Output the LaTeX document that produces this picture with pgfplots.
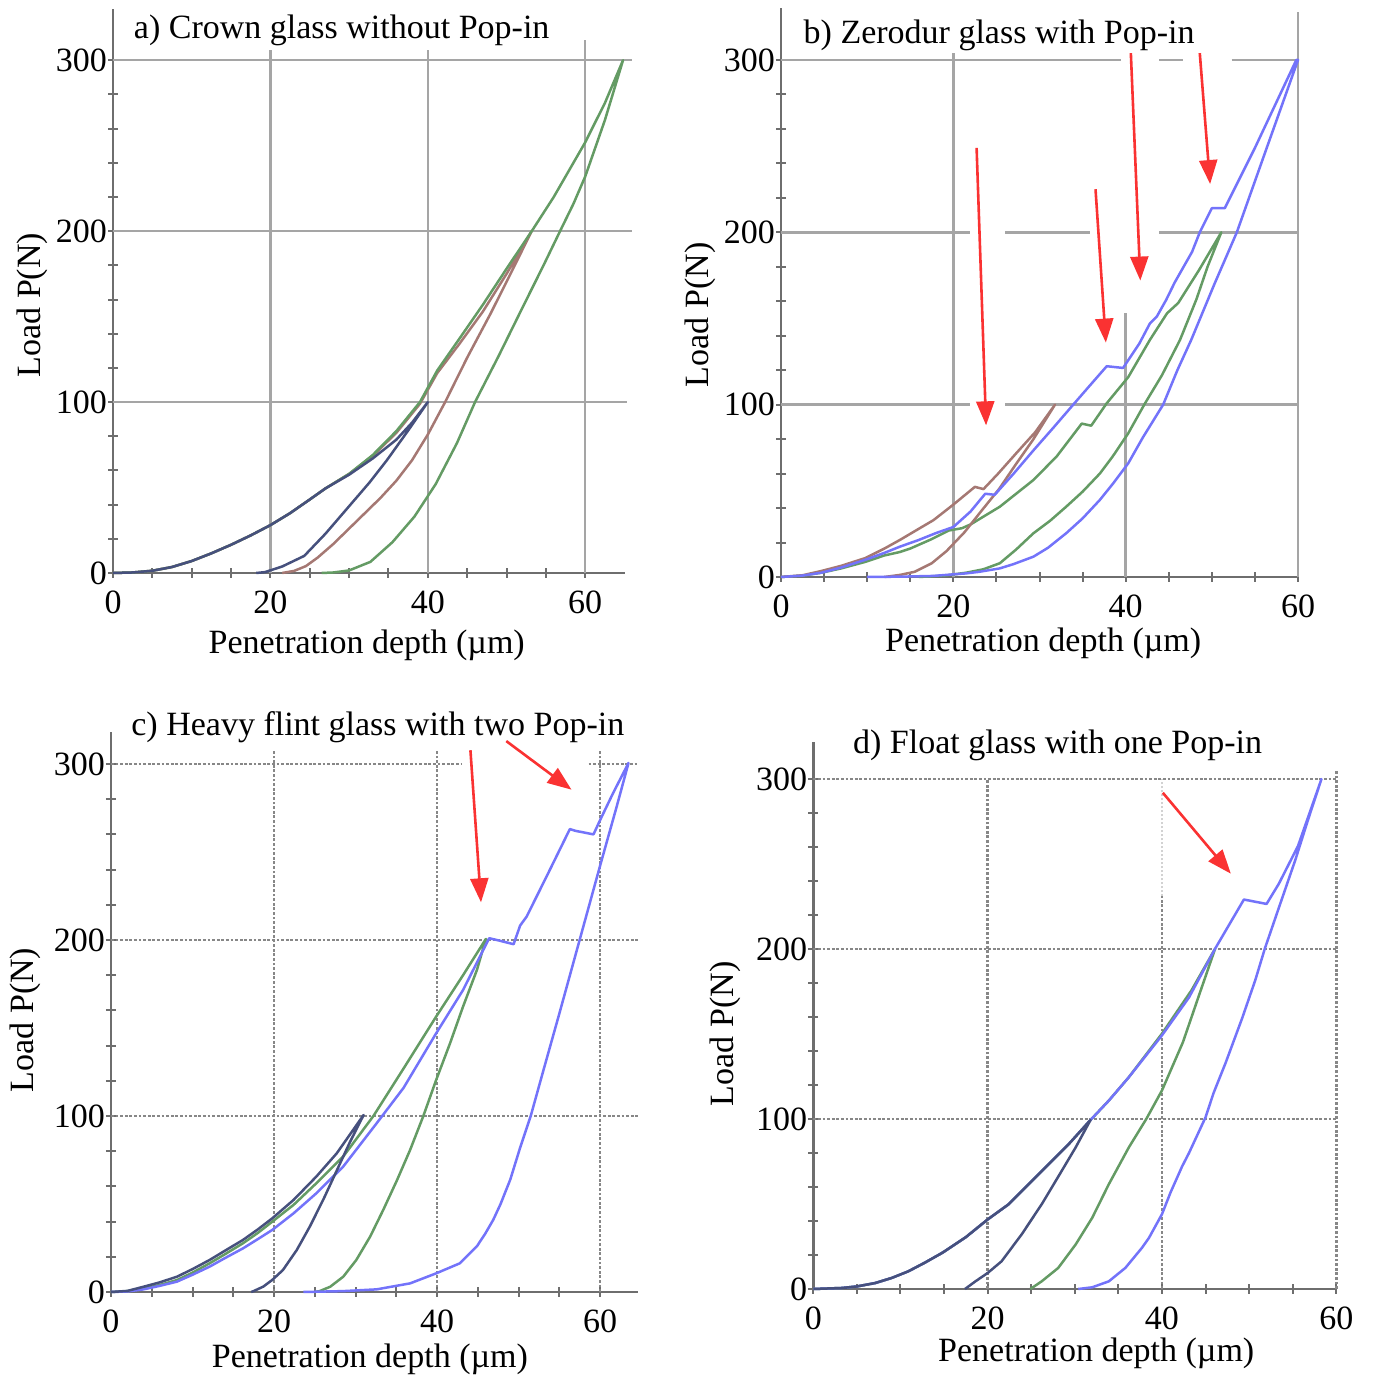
\documentclass[border=0pt]{standalone}
\usepackage{fontspec}
\setmainfont{Liberation Serif}
\usepackage{pgfplots}
\pgfplotsset{compat=1.18}
\usetikzlibrary{arrows.meta}

\definecolor{axgray}{RGB}{110,110,110}
\definecolor{grd}{RGB}{165,165,165}
\definecolor{dgrd}{RGB}{135,135,135}
\definecolor{cblue}{RGB}{115,115,250}
\definecolor{cgreen}{RGB}{100,155,100}
\definecolor{cbrown}{RGB}{165,120,115}
\definecolor{cdark}{RGB}{70,80,125}
\definecolor{cred}{RGB}{250,50,50}

\pgfplotsset{
  panel/.style={
    scale only axis, anchor=south west, clip=false,
    axis x line=bottom, axis y line=left,
    axis line style={-, draw=axgray, line width=1.3pt},
    xtick={0,20,40,60}, ytick={0,100,200,300},
    minor x tick num=3, minor y tick num=4,
    tick align=center, major tick length=5pt, minor tick length=5pt,
    every tick/.style={draw=axgray, line width=1pt},
    font=\fontsize{17}{20}\selectfont,
    /pgf/number format/assume math mode=true,
    xticklabel style={yshift=-3pt},
    yticklabel style={xshift=3pt},
    title style={anchor=center, yshift=-7.5pt},
    every axis plot/.append style={line width=1.25pt, line join=round},
  },
}
\tikzset{
  sgrid/.style={draw=grd, line width=1.2pt},
  dgrid/.style={draw=dgrd, line width=1.2pt, dash pattern=on 1.4pt off 0.9pt},
  fgrid/.style={draw=grd!50, line width=0.8pt, dash pattern=on 1pt off 1pt},
  arr/.style={draw=cred, line width=1.3pt, -{Triangle[width=9pt,length=12pt]}},
}

\begin{document}
\begin{tikzpicture}
\path[use as bounding box] (0,0) rectangle (686.5pt,687.5pt);

% a) Crown glass
\begin{axis}[panel,
  at={(56.5pt,401pt)}, width=255.8pt, height=282pt,
  xmin=0, xmax=65, ymin=0, ymax=330,
  title={a) Crown glass without Pop-in},
  title style={at={(axis description cs:0.447,0.968)}},
  xlabel={Penetration depth (µm)},
  xlabel style={at={(axis description cs:0.496,-0.128)}, anchor=center},
  ylabel={Load P(N)},
  ylabel style={at={(axis description cs:-0.158,0.475)}, anchor=center},
]
\draw[sgrid] (axis cs:0,100) -- (axis cs:65.3,100);
\draw[sgrid] (axis cs:0,200) -- (axis cs:66,200);
\draw[sgrid] (axis cs:0,300) -- (axis cs:66,300);
\draw[sgrid] (axis cs:20,0) -- (axis cs:20,306);
\draw[sgrid] (axis cs:40,0) -- (axis cs:40,306);
\draw[sgrid] (axis cs:60,0) -- (axis cs:60,312);

\addplot[cbrown] coordinates {
(0,0) (2.5,0.3) (5,1.3) (7.5,3.5) (10,7) (12.5,11.5) (15,16.5) (17.5,22)
(20,28) (22.5,35) (25,43) (27,49.5) (30,58) (33,68.5) (36,82) (39,99)
(41.2,117) (44,134) (47,153) (50,175) (53.2,200)
(50.5,175) (48,152) (45,126) (42.2,100) (40,81) (38,66) (36,54) (34,44)
(32,35) (30,26) (28,17) (26,9) (24.5,4) (23,1.2) (21.5,0)
};
\addplot[cgreen] coordinates {
(0,0) (2.5,0.3) (5,1.3) (7.5,3.5) (10,7) (12.5,11.5) (15,16.5) (17.5,22)
(20,28) (22.5,35) (25,43) (27,49.5) (30,58) (33,69) (36,83) (39,100)
(41.2,118.5) (44,137) (47,157) (50,178) (53.2,200) (56,220) (60,252)
(62.5,275) (64.8,300)
(62.5,265) (60,232) (58.5,216) (56.8,200) (54.7,180) (52,155) (49,127)
(46,100) (43.7,76) (41,52) (38.3,33) (35.5,18) (32.7,6.5) (30,1.5)
(28,0.3) (26.5,0)
};
\addplot[cdark] coordinates {
(0,0) (2.5,0.3) (5,1.3) (7.5,3.5) (10,7) (12.5,11.5) (15,16.5) (17.5,22)
(20,28) (22.5,35) (25,43) (27,49.5) (30,57.5) (33,67) (36,78) (38,88)
(40,100)
(37.6,84) (34.8,66) (32.6,53) (29.8,38) (27,23) (24.3,10) (21.5,3.8)
(19.3,0.5) (18.2,0)
};
\end{axis}

% b) Zerodur glass
\begin{axis}[panel,
  at={(390.5pt,399pt)}, width=258.5pt, height=284.35pt,
  xmin=0, xmax=60, ymin=0, ymax=330,
  title={b) Zerodur glass with Pop-in},
  title style={at={(axis description cs:0.422,0.958)}},
  xlabel={Penetration depth (µm)},
  xlabel style={at={(axis description cs:0.507,-0.116)}, anchor=center},
  ylabel={Load P(N)},
  ylabel style={at={(axis description cs:-0.157,0.461)}, anchor=center},
]
\draw[sgrid] (axis cs:0,100) -- (axis cs:21.9,100);
\draw[sgrid] (axis cs:26,100) -- (axis cs:60,100);
\draw[sgrid] (axis cs:0,200) -- (axis cs:21.9,200);
\draw[sgrid] (axis cs:26,200) -- (axis cs:35.9,200);
\draw[sgrid] (axis cs:43.9,200) -- (axis cs:60,200);
\draw[sgrid] (axis cs:0,300) -- (axis cs:39.5,300);
\draw[sgrid] (axis cs:43.9,300) -- (axis cs:46.7,300);
\draw[sgrid] (axis cs:52.3,300) -- (axis cs:60,300);
\draw[sgrid] (axis cs:20,0) -- (axis cs:20,304);
\draw[sgrid] (axis cs:40,0) -- (axis cs:40,153);
\draw[sgrid] (axis cs:60,0) -- (axis cs:60,328);

\addplot[cgreen] coordinates {
(0,0) (2.5,0.8) (4.7,2.5) (7,5) (9.8,8.8) (12,12.5) (13.8,14.5) (15,16.5)
(17.5,22) (19.5,27) (21,28.3) (22,30.5) (25.4,40.8) (29.3,56.3) (32,70)
(34.9,89) (36,87.8) (37.8,100.8) (40.3,116) (42.8,137.5) (44.8,153)
(46.1,159) (48.5,178) (51.1,200)
(49.5,180) (48.2,161) (46.3,137.5) (44.2,117) (42.2,100.4) (40.3,83.4)
(38.5,70) (37,60) (35,49.5) (33.1,40.8) (31.2,32.5) (29.3,25.4) (27.3,16)
(25.4,8) (23.5,4.5) (21.5,2.5) (19,0.8) (16,0)
};
\addplot[cbrown] coordinates {
(0,0) (2.5,1) (4.7,3.5) (7,6.5) (9.8,11) (12,16.5) (13.8,21.5) (16,28)
(17.7,33) (20,42) (22.5,52.3) (23.5,51) (25.2,60) (27.3,71.8) (29.5,84)
(31.8,100)
(29.3,80) (27.2,65) (25.3,51) (23.2,38) (21.3,26) (19.2,15) (17.5,8)
(15.5,3) (13.8,1.2) (12,0)
};
\addplot[cblue] coordinates {
(0,0) (2.5,0.8) (4.7,2.5) (7,5.5) (9.8,10) (12,14) (13.8,17.6) (16,21.5)
(18,25.5) (20,29) (22,38) (23.7,48.3) (24.8,47.7) (27,60) (29.3,73.5)
(31.5,86) (34,100.5) (36,112) (37.8,122.3) (39.7,121.3) (41.6,135.6)
(42.8,147) (43.6,151) (44.7,160.8) (45.7,171) (47.7,188.6) (48.6,200)
(50,214) (51.5,214) (55,249) (59.8,300) (60,300)
(56.3,248) (52.9,200) (50.3,170) (47.6,137.5) (46,120)
(44.35,100) (42,81) (40.3,66) (38.5,54) (37,44.7) (35,34) (33.1,25.4)
(31,17) (29.3,11.8) (27,7.5) (25.4,5) (23,3) (21.5,2.1) (17.6,0.6)
(14,0.2) (10,0)
};
\draw[arr] (axis cs:22.7,249) -- (axis cs:23.8,88);
\draw[arr] (axis cs:36.5,225) -- (axis cs:37.7,136);
\draw[arr] (axis cs:40.6,304) -- (axis cs:41.7,172);
\draw[arr] (axis cs:48.6,304) -- (axis cs:49.8,228);
\end{axis}

% c) Heavy flint glass
\begin{axis}[panel,
  at={(55.5pt,41.5pt)}, width=263.65pt, height=279.85pt,
  xmin=0, xmax=64.7, ymin=0, ymax=318,
  title={c) Heavy flint glass with two Pop-in},
  title style={at={(axis description cs:0.506,1.015)}},
  xlabel={Penetration depth (µm)},
  xlabel style={at={(axis description cs:0.491,-0.12)}, anchor=center},
  ylabel={Load P(N)},
  ylabel style={at={(axis description cs:-0.163,0.486)}, anchor=center},
]
\draw[dgrid] (axis cs:0,100) -- (axis cs:64.7,100);
\draw[dgrid] (axis cs:0,200) -- (axis cs:64.7,200);
\draw[dgrid] (axis cs:0,300) -- (axis cs:42.9,300);
\draw[dgrid] (axis cs:58.6,300) -- (axis cs:64.7,300);
\draw[dgrid] (axis cs:20,0) -- (axis cs:20,308);
\draw[dgrid] (axis cs:40,0) -- (axis cs:40,308);
\draw[dgrid] (axis cs:60,0) -- (axis cs:60,308);

\addplot[cgreen] coordinates {
(0,0) (2,0.5) (4,2) (6,4) (8.1,6.8) (10,11) (12.1,16.3) (14,21.5)
(16.2,27.7) (18,33.5) (19.8,40) (22.4,49.5) (25.2,61.8) (28.5,77)
(32.2,100) (35.9,127) (39.9,156.5) (43.2,180) (46,200.6)
(44.9,183) (43.2,162.2) (41.6,141.3) (39.9,120.5) (38.3,99.7) (36.7,80.7)
(35.1,63.6) (33.4,46.6) (31.8,31.5) (30.1,18.2) (28.5,8.7) (26.9,3)
(25.6,0.5) (25,0)
};
\addplot[cblue] coordinates {
(0,0) (2,0.3) (4,1.5) (6,3.5) (8.1,5.9) (10,9.8) (12.1,14.4) (14,19.3)
(16.2,24.8) (18,30) (19.8,35.3) (22.4,44.7) (25.2,56.1) (28.5,71.3)
(32.6,95.9) (35.9,116) (39.9,147) (43.2,171.6) (46.4,201) (47.6,199.7)
(49.4,197.6) (50.2,208.2) (51,213.3) (53.5,236.6) (56.3,263) (57,262)
(59.2,260) (60,268) (61.6,283.4) (63.5,300.6)
(62,275) (60,242) (57.5,200) (55,158) (53,125) (51.5,100) (50.2,82)
(49,64) (47.8,50) (46.9,41) (45.9,33) (44.9,26) (42.8,16.3) (39.9,10.6)
(36.7,4.9) (32.6,1.5) (28.5,0.5) (23.6,0)
};
\addplot[cdark] coordinates {
(0,0) (2,0.6) (4,3) (6,5.5) (8.1,8.7) (10,13) (12.1,18.2) (14,23.5)
(16.2,29.6) (18,35.5) (19.8,41.9) (22.4,52.3) (25.2,65.6) (27.7,78.8)
(31,100.6)
(29.3,85) (27.7,69) (26.1,53) (24.4,37.2) (22.8,23.9) (21.1,12.5)
(19.8,6.9) (18.7,3.1) (17.5,0.5) (17.2,0)
};
\draw[arr] (axis cs:44.1,307.8) -- (axis cs:45.4,221.4);
\draw[arr] (axis cs:48.5,313) -- (axis cs:56.5,285.4);
\end{axis}

% d) Float glass
\begin{axis}[panel,
  at={(406.65pt,43pt)}, width=261.5pt, height=273.7pt,
  xmin=0, xmax=60, ymin=0, ymax=322,
  title={d) Float glass with one Pop-in},
  title style={at={(axis description cs:0.467,0.999)}},
  xlabel={Penetration depth (µm)},
  xlabel style={at={(axis description cs:0.541,-0.118)}, anchor=center},
  ylabel={Load P(N)},
  ylabel style={at={(axis description cs:-0.168,0.466)}, anchor=center},
]
\draw[dgrid] (axis cs:0,100) -- (axis cs:60,100);
\draw[dgrid] (axis cs:0,200) -- (axis cs:60,200);
\draw[dgrid] (axis cs:0,300) -- (axis cs:60,300);
\draw[dgrid] (axis cs:20,0) -- (axis cs:20,300);
\draw[dgrid] (axis cs:40,0) -- (axis cs:40,231);
\draw[fgrid] (axis cs:40,231) -- (axis cs:40,300);
\draw[dgrid] (axis cs:60,0) -- (axis cs:60,305);

\addplot[cgreen] coordinates {
(0,0) (3.3,0.6) (5,1.5) (7.1,3.5) (9,6.5) (10.9,10.4) (12.8,15.5)
(14.8,21.3) (17.5,30.5) (20,40.9) (22.4,49.8) (24.7,61.6) (27,73.4)
(29.3,85.2) (31.8,99.4) (33.9,110.8) (36.2,124.6) (40,150.2) (43.4,175.8)
(46.1,200.2)
(44.3,173.5) (42.4,145.1) (40,116.8) (38.2,100) (36.2,83.3) (33.9,61.6)
(32,41.9) (30.1,26.2) (28.1,12.4) (26.2,4.5) (24.9,0)
};
\addplot[cblue] coordinates {
(0,0) (3.3,0.6) (5,1.5) (7.1,3.5) (9,6.5) (10.9,10.4) (12.8,15.5)
(14.8,21.3) (17.5,30.5) (20,40.9) (22.4,49.8) (24.7,61.6) (27,73.4)
(29.3,85.2) (31.8,99.4) (33.9,110.8) (36.2,124.6) (40,149.2) (43.1,171.5)
(46.1,200.2) (49.4,229.1) (50.5,228) (52,226.5) (53.4,238.3) (55.6,260.5)
(58.3,300)
(56.8,276.7) (55.3,252.4) (53.4,224.1) (51.8,200.2) (50.7,181.6)
(49.2,159.3) (47.3,133) (45.9,115) (45,101) (43.1,80) (42.3,72) (41,57)
(40,44) (38.5,30) (37.7,24.2) (35.8,12.4) (33.9,4.5) (32,1) (30.4,0)
};
\addplot[cdark] coordinates {
(0,0) (3.3,0.6) (5,1.5) (7.1,3.5) (9,6.5) (10.9,10.4) (12.8,15.5)
(14.8,21.3) (17.5,30.5) (20,40.9) (22.4,49.8) (24.7,61.6) (27,73.4)
(29.3,85.2) (31.8,99.4)
(30.1,83.3) (28.5,69.5) (26.2,49.8) (23.9,32.1) (21.6,16.3) (20,9.4)
(18.6,4.5) (17.4,0)
};
\draw[arr] (axis cs:40.1,291.9) -- (axis cs:47.9,244.3);
\end{axis}
\end{tikzpicture}
\end{document}
